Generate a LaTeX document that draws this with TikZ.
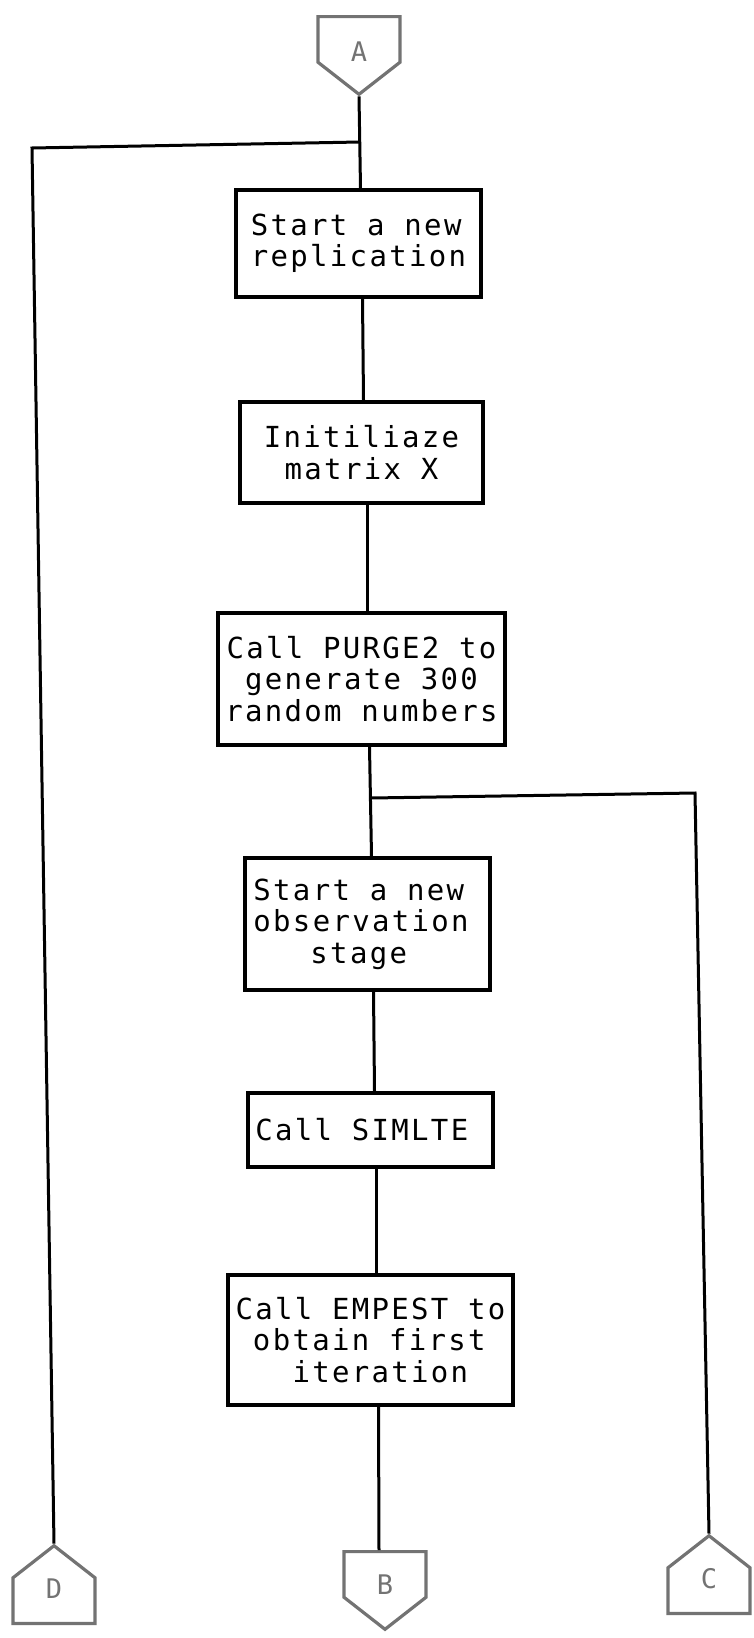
\documentclass[tikz,border=0pt]{standalone}
\usepackage{fontspec}
\usepackage{xcolor}
\usepackage{tikz}
\usetikzlibrary{shapes.symbols}
\newfontfamily\flowfont[LetterSpace=8.0]{DejaVu Sans Mono}
\definecolor{mygray}{RGB}{115,115,115}
\newcommand\offlabel[2]{\raisebox{#1}[0pt][0pt]{#2}}

\begin{document}
\begin{tikzpicture}[x=0.5pt, y=-0.5pt,
  box/.style={draw, line width=1.9pt, inner sep=0pt,
    font={\flowfont\fontsize{14.5}{15.75}\selectfont}},
  link/.style={line width=1.5pt},
  offpage/.style={draw=mygray, text=mygray, line width=1.6pt, signal,
    signal pointer angle=104, minimum width=41pt, minimum height=26pt,
    inner sep=0pt, font={\flowfont\fontsize{13.5}{14}\selectfont}}]
  \useasboundingbox (0,0) rectangle (754,1638);

  % off-page connectors
  \node[offpage, signal to=south, anchor=north] (A) at (359,15) {\offlabel{-11pt}{A}};
  \node[offpage, signal to=south, anchor=north] (B) at (385,1550) {\offlabel{-10pt}{B}};
  \node[offpage, signal to=north, anchor=south] (C) at (709,1615) {\offlabel{1pt}{C}};
  \node[offpage, signal to=north, anchor=south] (D) at (54,1625) {\offlabel{1pt}{D}};

  % steps
  \node[box, minimum width=122.5pt, minimum height=53.5pt, align=left] (repl) at (358.5,243.5) {Start a new\\replication};
  \node[box, minimum width=121.5pt, minimum height=50.5pt, align=center] (init) at (361.5,452.5) {Initiliaze\\matrix X};
  \node[box, minimum width=143.5pt, minimum height=66pt, align=center] (purge) at (361.5,679) {Call PURGE2 to\\generate 300\\random numbers};
  \node[box, minimum width=122.5pt, minimum height=66pt, align=left] (obs) at (367.5,924) {Start a new\phantom{x}\\observation\\\phantom{xxx}stage};
  \node[box, minimum width=122.5pt, minimum height=37pt, align=left] (simlte) at (370.5,1130) {Call SIMLTE\phantom{x}};
  \node[box, minimum width=142.5pt, minimum height=65pt, align=left] (empest) at (370.5,1340) {Call EMPEST to\\\phantom{x}obtain first\\\phantom{xxx}iteration};

  % branch points
  \coordinate (J1) at (360,142);
  \coordinate (LC) at (32,148);
  \coordinate (J2) at (371,798);
  \coordinate (RC) at (695,793);

  % main flow
  \draw[link] (A.south) -- ([xshift=1pt]repl.north);
  \draw[link] ([xshift=2pt]repl.south) -- ([xshift=1pt]init.north);
  \draw[link] ([xshift=3pt]init.south) -- ([xshift=3pt]purge.north);
  \draw[link] ([xshift=4pt]purge.south) -- ([xshift=2pt]obs.north);
  \draw[link] ([xshift=3pt]obs.south) -- ([xshift=2pt]simlte.north);
  \draw[link] ([xshift=3pt]simlte.south) -- ([xshift=3pt]empest.north);
  \draw[link] ([xshift=4pt]empest.south) -- ([xshift=-3pt]B.north);

  % side branches
  \draw[link] (J1) -- (LC) -- (D.north);
  \draw[link] (J2) -- (RC) -- (C.north);
\end{tikzpicture}
\end{document}
